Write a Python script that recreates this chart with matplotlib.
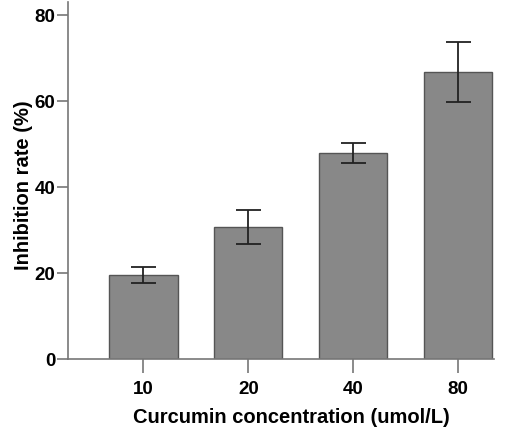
import matplotlib
matplotlib.use('agg')
import matplotlib.pyplot as plt
import numpy as np

concentrations = ['10', '20', '40', '80']
inhibition = [19.5, 30.7, 47.9, 66.7]
errors = [1.95, 3.9, 2.3, 7.05]

plt.rcParams['font.family'] = ['Liberation Sans', 'DejaVu Sans']

fig = plt.figure(figsize=(5.26, 4.31), dpi=100)
ax = fig.add_axes([0.129, 0.165, 0.81, 0.828])

x = np.arange(len(concentrations))
ax.bar(x, inhibition, width=0.65, color='#888888', edgecolor='#555555', linewidth=1.0,
       yerr=errors, capsize=9, error_kw=dict(ecolor='#222222', elinewidth=1.3, capthick=1.3))

ax.set_xlim(-0.72, 3.34)
ax.set_ylim(0, 83)
ax.set_yticks([0, 20, 40, 60, 80])
ax.set_xticks(x)
ax.set_xticklabels(concentrations)

for s in ['top', 'right']:
    ax.spines[s].set_visible(False)
for s in ['left', 'bottom']:
    ax.spines[s].set_color('#777777')
    ax.spines[s].set_linewidth(1.2)

ax.tick_params(axis='y', length=8, width=1.2, color='#777777', labelsize=13.5, pad=1)
ax.tick_params(axis='x', length=10, width=1.2, color='#777777', labelsize=13.5, pad=5)
for lab in ax.get_xticklabels() + ax.get_yticklabels():
    lab.set_fontweight('bold')

ax.set_xlabel('Curcumin concentration (umol/L)', fontsize=14.5, fontweight='bold')
ax.set_ylabel('Inhibition rate (%)', fontsize=14.5, fontweight='bold')
ax.xaxis.set_label_coords(0.525, -0.135)
ax.yaxis.set_label_coords(-0.082, 0.49)

fig.savefig('out.png', dpi=100)
